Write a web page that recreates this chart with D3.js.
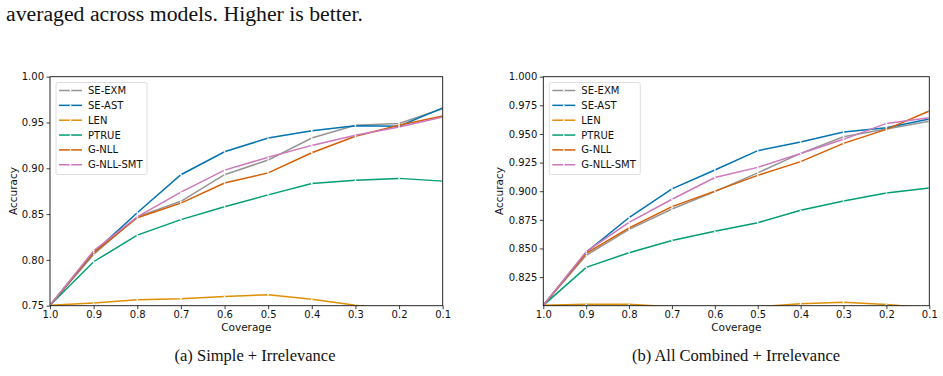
<!DOCTYPE html>
<html>
<head>
<meta charset="utf-8">
<script src="https://cdn.jsdelivr.net/npm/d3@7"></script>
<style>
  body { margin: 0; background: #fff; }
  svg { display: block; }
</style>
</head>
<body>
<svg width="943" height="376"></svg>
<script>
// coverage levels (x axis, reversed)
var coverage = [1.0, 0.9, 0.8, 0.7, 0.6, 0.5, 0.4, 0.3, 0.2, 0.1];
var methods = ["SE-EXM", "SE-AST", "LEN", "PTRUE", "G-NLL", "G-NLL-SMT"];
var colors = ["#949494", "#0173b2", "#de8f05", "#029e73", "#d55e00", "#cc78bc"];

// (a) Simple + Irrelevance
var simpleSeExm  = [0.7505, 0.806, 0.847, 0.864, 0.893, 0.909, 0.933, 0.947, 0.949, 0.965];
var simpleSeAst  = [0.7505, 0.808, 0.8515, 0.893, 0.918, 0.933, 0.941, 0.9465, 0.946, 0.966];
var simpleLen    = [0.7505, 0.753, 0.7565, 0.7576, 0.760, 0.762, 0.757, 0.7505, 0.745, 0.740];
var simplePtrue  = [0.7505, 0.798, 0.827, 0.844, 0.858, 0.871, 0.8835, 0.887, 0.889, 0.886];
var simpleGnll   = [0.7505, 0.808, 0.846, 0.862, 0.884, 0.895, 0.917, 0.935, 0.947, 0.957];
var simpleGnllSmt = [0.7505, 0.810, 0.847, 0.874, 0.898, 0.912, 0.925, 0.936, 0.945, 0.956];

// (b) All Combined + Irrelevance
var allSeExm  = [0.8003, 0.844, 0.8667, 0.8844, 0.8996, 0.916, 0.933, 0.9476, 0.9543, 0.961];
var allSeAst  = [0.8003, 0.8466, 0.877, 0.902, 0.9185, 0.9354, 0.943, 0.9517, 0.9555, 0.963];
var allLen    = [0.8003, 0.8012, 0.8012, 0.799, 0.797, 0.799, 0.8017, 0.803, 0.801, 0.798];
var allPtrue  = [0.8003, 0.8335, 0.8463, 0.857, 0.865, 0.8725, 0.8833, 0.8914, 0.8984, 0.9028];
var allGnll   = [0.8003, 0.8457, 0.868, 0.8865, 0.9001, 0.9138, 0.9258, 0.9418, 0.954, 0.970];
var allGnllSmt = [0.8003, 0.8472, 0.8728, 0.893, 0.912, 0.9208, 0.933, 0.9453, 0.9592, 0.9642];

var leftTicks = [0.75, 0.80, 0.85, 0.90, 0.95, 1.00];
var rightTicks = [0.825, 0.85, 0.875, 0.90, 0.925, 0.95, 0.975, 1.0];

var svg = d3.select("svg");
var sans = "DejaVu Sans, sans-serif";
var serif = "Liberation Serif, DejaVu Serif, serif";

// text above the plots (end of the paper's caption)
svg.append("text")
  .attr("x", 6).attr("y", 21)
  .attr("font-family", serif).attr("font-size", 20)
  .attr("textLength", 357).attr("lengthAdjust", "spacingAndGlyphs")
  .attr("fill", "#111")
  .text("averaged across models. Higher is better.");

function drawPanel(opt) {
  var x = d3.scaleLinear().domain([1.0, 0.1]).range([opt.left, opt.right]);
  var y = d3.scaleLinear().domain(opt.yDomain).range([305.7, 76.7]);
  var g = svg.append("g");
  var clipId = "clip" + opt.id;

  g.append("clipPath").attr("id", clipId)
    .append("rect")
    .attr("x", opt.left).attr("y", 76.7)
    .attr("width", opt.right - opt.left).attr("height", 229);

  var line = d3.line()
    .x(function(d, i) { return x(coverage[i]); })
    .y(function(d) { return y(d); });

  var lines = g.append("g").attr("clip-path", "url(#" + clipId + ")");
  opt.series.forEach(function(vals, k) {
    lines.append("path")
      .attr("d", line(vals))
      .attr("fill", "none")
      .attr("stroke", colors[k])
      .attr("stroke-width", 1.5);
    lines.selectAll(null).data(vals).enter().append("circle")
      .attr("cx", function(d, i) { return x(coverage[i]); })
      .attr("cy", function(d) { return y(d); })
      .attr("r", 0.9)
      .attr("fill", "#fff");
  });

  // axes
  var xAxis = d3.axisBottom(x).tickValues(coverage).tickFormat(d3.format(".1f"))
    .tickSizeOuter(0).tickSize(3.5).tickPadding(2);
  var yAxis = d3.axisLeft(y).tickValues(opt.ticks).tickFormat(d3.format(opt.fmt))
    .tickSizeOuter(0).tickSize(3.5).tickPadding(2.5);

  var gx = g.append("g").attr("transform", "translate(0,305.7)").call(xAxis);
  var gy = g.append("g").attr("transform", "translate(" + opt.left + ",0)").call(yAxis);
  [gx, gy].forEach(function(a) {
    a.select(".domain").remove();
    a.selectAll("text").attr("font-family", sans).attr("font-size", 10).attr("fill", "#111");
    a.selectAll("line").attr("stroke", "#111").attr("stroke-width", 0.8);
  });

  g.append("rect")
    .attr("x", opt.left).attr("y", 76.7)
    .attr("width", opt.right - opt.left).attr("height", 229)
    .attr("fill", "none").attr("stroke", "#111").attr("stroke-width", 0.9);

  g.append("text")
    .attr("x", (opt.left + opt.right) / 2).attr("y", 330.5)
    .attr("text-anchor", "middle")
    .attr("font-family", sans).attr("font-size", 10.5)
    .attr("fill", "#111")
    .text("Coverage");

  g.append("text")
    .attr("transform", "translate(" + opt.ylabelX + "," + 191 + ") rotate(-90)")
    .attr("text-anchor", "middle")
    .attr("font-family", sans).attr("font-size", 10.5)
    .attr("fill", "#111")
    .text("Accuracy");

  // legend
  var lx = opt.left + 6, ly = 82.5;
  g.append("rect")
    .attr("x", lx).attr("y", ly)
    .attr("width", 91).attr("height", 92)
    .attr("rx", 2)
    .attr("fill", "#fff").attr("fill-opacity", 0.8)
    .attr("stroke", "#d6d6d6").attr("stroke-width", 0.8);
  methods.forEach(function(m, k) {
    var yy = ly + 8 + k * 14.85;
    g.append("line")
      .attr("x1", lx + 3).attr("x2", lx + 26)
      .attr("y1", yy).attr("y2", yy)
      .attr("stroke", colors[k]).attr("stroke-width", 1.5);
    g.append("circle")
      .attr("cx", lx + 14.5).attr("cy", yy).attr("r", 0.9).attr("fill", "#fff");
    g.append("text")
      .attr("x", lx + 32).attr("y", yy).attr("dy", "0.35em")
      .attr("font-family", sans).attr("font-size", 10)
      .attr("fill", "#111")
      .text(m);
  });

  svg.append("text")
    .attr("x", opt.capX).attr("y", 361)
    .attr("text-anchor", "middle")
    .attr("font-family", serif).attr("font-size", 16.5)
    .attr("fill", "#111")
    .text(opt.caption);
}

drawPanel({
  id: "a", left: 50, right: 442.7, yDomain: [0.75, 1.0],
  ticks: leftTicks, fmt: ".2f", ylabelX: 17,
  series: [simpleSeExm, simpleSeAst, simpleLen, simplePtrue, simpleGnll, simpleGnllSmt],
  capX: 255, caption: "(a) Simple + Irrelevance"
});

drawPanel({
  id: "b", left: 543.3, right: 929.3, yDomain: [0.80, 1.0],
  ticks: rightTicks, fmt: ".3f", ylabelX: 503,
  series: [allSeExm, allSeAst, allLen, allPtrue, allGnll, allGnllSmt],
  capX: 736, caption: "(b) All Combined + Irrelevance"
});
</script>
</body>
</html>
